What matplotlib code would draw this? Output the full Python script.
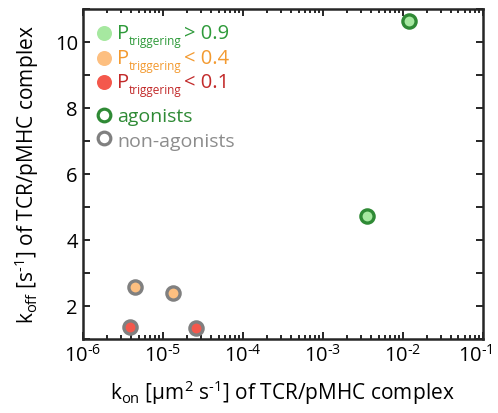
import matplotlib
matplotlib.use("Agg")
from matplotlib import pyplot as plt
from matplotlib.ticker import MultipleLocator, NullFormatter, FuncFormatter
from matplotlib.transforms import ScaledTranslation
import numpy as np

plt.rcParams['font.family'] = ['Open Sans', 'DejaVu Sans']
plt.rcParams['mathtext.fontset'] = 'custom'
plt.rcParams['mathtext.rm'] = 'Open Sans'
plt.rcParams['mathtext.it'] = 'Open Sans'
plt.rcParams['mathtext.default'] = 'regular'

# data
kon_agonist = [3.55e-3, 1.2e-2]
koff_agonist = [4.73, 10.63]

kon_weak = [4.5e-6, 1.33e-5]      # P_triggering < 0.4
koff_weak = [2.58, 2.40]

kon_null = [3.9e-6, 2.63e-5]      # P_triggering < 0.1
koff_null = [1.37, 1.36]

c_green_fill = '#a6e8a0'
c_green_edge = '#2f8a35'
c_orange_fill = '#fdbf80'
c_red_fill = '#f4584c'
c_gray_edge = '#808080'

fig = plt.figure(figsize=(4.98, 4.13), dpi=100)
ax = fig.add_axes([0.166, 0.178, 0.803, 0.800])

ms = 9.5
mew = 2.4
ax.plot(kon_agonist, koff_agonist, 'o', ms=ms, mfc=c_green_fill, mec=c_green_edge, mew=mew, ls='none')
ax.plot(kon_weak, koff_weak, 'o', ms=ms, mfc=c_orange_fill, mec=c_gray_edge, mew=mew, ls='none')
ax.plot(kon_null, koff_null, 'o', ms=ms, mfc=c_red_fill, mec=c_gray_edge, mew=mew, ls='none')

ax.set_xscale('log')
ax.set_xlim(1e-6, 1e-1)
ax.set_ylim(1, 11)
ax.yaxis.set_major_locator(MultipleLocator(1))
ax.yaxis.set_major_formatter(FuncFormatter(lambda v, p: '%d' % v if (v % 2 == 0 and 1 < v < 11) else ''))
# hyphen-style exponent like the original
ax.set_xticks([1e-6, 1e-5, 1e-4, 1e-3, 1e-2, 1e-1])
ax.xaxis.set_major_formatter(FuncFormatter(lambda v, p: r'10$^{\text{-%d}}$' % round(-np.log10(v))))
ax.xaxis.set_minor_formatter(NullFormatter())

for s in ax.spines.values():
    s.set_linewidth(1.8)
    s.set_color('#262626')
ax.tick_params(which='both', direction='in', top=True, right=True, colors='#262626',
               labelcolor='black', labelsize=14.5, width=1.4)
ax.tick_params(which='major', length=5)
ax.tick_params(which='minor', length=3)
ax.tick_params(axis='x', pad=4)

ax.set_xlabel(r'k$_{\rm on}$ [μm$^{2}$ s$^{\text{-1}}$] of TCR/pMHC complex', fontsize=15, labelpad=8)
ax.set_ylabel(r'k$_{\rm off}$ [s$^{\text{-1}}$] of TCR/pMHC complex', fontsize=15, labelpad=10)

# hand-made legend in axes coordinates
p_rows = [
    (c_green_fill, '> 0.9', '#2e9a3a', 0.927, 0.909),
    (c_orange_fill, '< 0.4', '#f39a30', 0.851, 0.833),
    (c_red_fill, '< 0.1', '#c22a2a', 0.778, 0.761),
]
for fill, rest, tcol, ym, yb in p_rows:
    ax.plot([0.054], [ym], 'o', ms=10.8, mfc=fill, mew=0, transform=ax.transAxes, clip_on=False)
    t1 = ax.text(0.0865, yb, 'P', color=tcol, fontsize=14.5, va='baseline', ha='left',
                 transform=ax.transAxes)
    t2 = ax.annotate('triggering', xy=(1, 0), xycoords=t1, xytext=(-0.5, -3.0),
                     textcoords='offset points', color=tcol, fontsize=8.5, va='bottom', ha='left')
    ax.annotate(rest, xy=(1, 0), xycoords=(t2, t1), xytext=(1.5, 0),
                textcoords='offset points', color=tcol, fontsize=14.5, va='bottom', ha='left')

ring_rows = [
    (c_green_edge, 'agonists', '#2e8a35', 0.680, 0.659),
    (c_gray_edge, 'non-agonists', '#8c8c8c', 0.609, 0.584),
]
for edge, label, tcol, ym, yb in ring_rows:
    ax.plot([0.054], [ym], 'o', ms=9.1, mfc='white', mec=edge, mew=2.3,
            transform=ax.transAxes, clip_on=False)
    ax.text(0.0865, yb, label, color=tcol, fontsize=14, va='baseline', ha='left',
            transform=ax.transAxes)

# pull the last x label in a little so it stays inside the figure, as in the original
last = ax.xaxis.get_major_ticks()[-1].label1
last.set_transform(last.get_transform() + ScaledTranslation(-7 / 100, 0, fig.dpi_scale_trans))

fig.savefig('out.png', dpi=100)
